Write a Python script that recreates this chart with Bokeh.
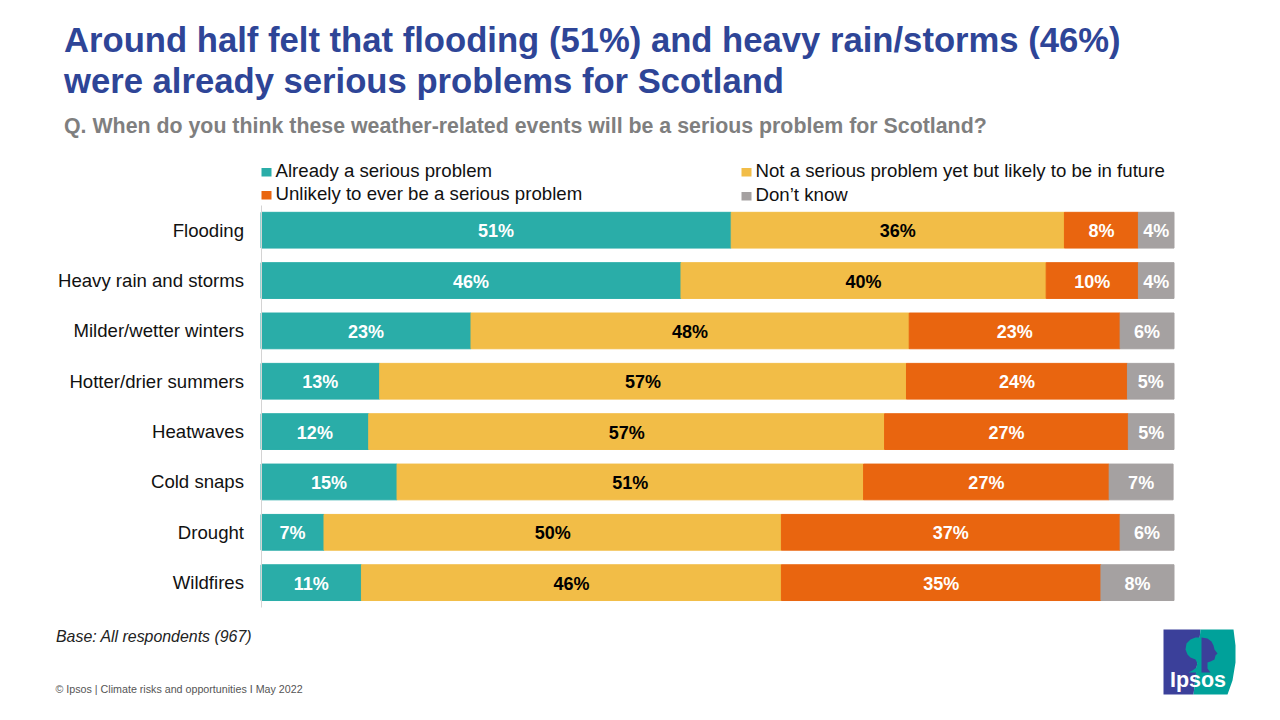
from bokeh.plotting import figure
from bokeh.models import Label, PolyAnnotation, ColumnDataSource, Range1d, LinearAxis, FixedTicker
from bokeh.core.properties import value
from bokeh.embed import file_html
from bokeh.resources import INLINE

categories = ["Flooding", "Heavy rain and storms", "Milder/wetter winters", "Hotter/drier summers",
              "Heatwaves", "Cold snaps", "Drought", "Wildfires"]
already = [51.5, 46.0, 23.0, 13.0, 11.8, 14.9, 6.9, 11.0]
not_yet = [36.5, 40.0, 48.0, 57.7, 56.5, 51.1, 50.1, 46.0]
unlikely = [8.1, 10.1, 23.1, 24.2, 26.7, 26.9, 37.1, 35.0]
dont_know = [3.9, 3.9, 5.9, 5.1, 5.0, 7.0, 5.9, 8.0]
labels_already = ["51%", "46%", "23%", "13%", "12%", "15%", "7%", "11%"]
labels_not_yet = ["36%", "40%", "48%", "57%", "57%", "51%", "50%", "46%"]
labels_unlikely = ["8%", "10%", "23%", "24%", "27%", "27%", "37%", "35%"]
labels_dont_know = ["4%", "4%", "6%", "5%", "5%", "7%", "6%", "8%"]
series_names = ["Already a serious problem", "Not a serious problem yet but likely to be in future",
                "Unlikely to ever be a serious problem", "Don\u2019t know"]
colors = ["#2AADA8", "#F2BD47", "#E9650F", "#A5A1A1"]
label_colors = ["white", "black", "white", "white"]

W, H = 1264, 704
L, R = 260.5, 1173.5
Y0, ROW = 229.7, 50.35
FONT = "Liberation Sans"
PX_PER_PCT = (R - L) / 100

p = figure(width=W, height=H, output_backend="svg", toolbar_location=None,
           x_range=Range1d(-L / PX_PER_PCT, (W - L) / PX_PER_PCT),
           y_range=Range1d((H - Y0) / ROW, -Y0 / ROW),
           x_axis_location=None, y_axis_location=None,
           min_border=0, outline_line_color=None,
           background_fill_color="white", border_fill_color="white")
p.xgrid.visible = False
p.ygrid.visible = False

positions = list(range(len(categories)))
ax = LinearAxis(fixed_location=0, bounds=(-0.5, len(categories) - 0.5),
                ticker=FixedTicker(ticks=positions),
                major_label_overrides=dict(zip(positions, categories)))
ax.major_tick_line_color = None
ax.minor_tick_line_color = None
ax.axis_line_color = "#D4D4D4"
ax.major_label_text_font = FONT
ax.major_label_text_font_size = "18.6px"
ax.major_label_text_color = "#111111"
ax.major_label_standoff = 11
p.add_layout(ax, "left")

values = [already, not_yet, unlikely, dont_know]
texts = [labels_already, labels_not_yet, labels_unlikely, labels_dont_know]
base = [0.0] * len(categories)
for vals, txt, col, tcol in zip(values, texts, colors, label_colors):
    right = [b + v for b, v in zip(base, vals)]
    mid = [(b + r) / 2 for b, r in zip(base, right)]
    src = ColumnDataSource(dict(pos=positions, left=base, right=right, mid=mid, txt=txt))
    p.hbar(y="pos", left="left", right="right", height=0.71, color=col, source=src)
    p.text(x="mid", y="pos", text="txt", source=src, text_align="center", text_baseline="middle", y_offset=1,
           text_color=tcol, text_font=value(FONT), text_font_style="bold", text_font_size=value("18px"))
    base = right


def text(px, py, s, size, color, style="normal", align="left"):
    p.add_layout(Label(x=px, y=H - py, x_units="screen", y_units="screen", text=s,
                       text_font=FONT, text_font_size=size, text_color=color, text_font_style=style,
                       text_align=align, text_baseline="middle"))


def poly(xs, ys, color):
    p.add_layout(PolyAnnotation(xs=xs, ys=[H - y for y in ys], xs_units="screen", ys_units="screen",
                                fill_color=color, fill_alpha=1, line_color=None))


def legend_entry(px, py, name, color):
    poly([px, px + 10, px + 10, px], [py - 3.5, py - 3.5, py + 5, py + 5], color)
    text(px + 14, py - 1, name, "18.65px", "#111111")


legend_entry(261, 171, series_names[0], colors[0])
legend_entry(741, 171, series_names[1], colors[1])
legend_entry(261, 194, series_names[2], colors[2])
legend_entry(741, 195, series_names[3], colors[3])

TITLE = "#2E4597"
text(63.5, 39, "Around half felt that flooding (51%) and heavy rain/storms (46%)", "34.65px", TITLE, "bold")
text(63.5, 80, "were already serious problems for Scotland", "34.65px", TITLE, "bold")
text(63.5, 125, "Q. When do you think these weather-related events will be a serious problem for Scotland?",
     "21.35px", "#7F7F7F", "bold")
text(55.5, 636, "Base: All respondents (967)", "15.9px", "#222222", "italic")
text(55, 688, "\u00a9 Ipsos | Climate risks and opportunities I May 2022", "10.7px", "#555555")

BLUE, TEAL = "#3B409A", "#00A19A"
poly([1200, 1163, 1163, 1193, 1197], [629, 629, 694, 694, 660], BLUE)
poly([1200, 1233, 1235, 1235, 1232, 1227, 1193, 1197], [629, 629, 645, 662, 680, 694, 694, 660], TEAL)
poly([1201, 1195, 1190, 1186, 1185, 1187, 1190, 1195, 1197, 1196, 1192, 1188, 1201],
     [637, 637, 639, 643, 649, 654, 657, 659, 663, 667, 670, 672, 672], TEAL)
poly([1201, 1207, 1211, 1213, 1214, 1217, 1215, 1214, 1210, 1207, 1207, 1210, 1201],
     [637, 638, 641, 645, 649, 653, 655, 659, 661, 662, 668, 672, 672], BLUE)
text(1197.5, 679, "Ipsos", "21.5px", "white", "bold", "center")

open("out.html", "w").write(file_html(p, INLINE))
